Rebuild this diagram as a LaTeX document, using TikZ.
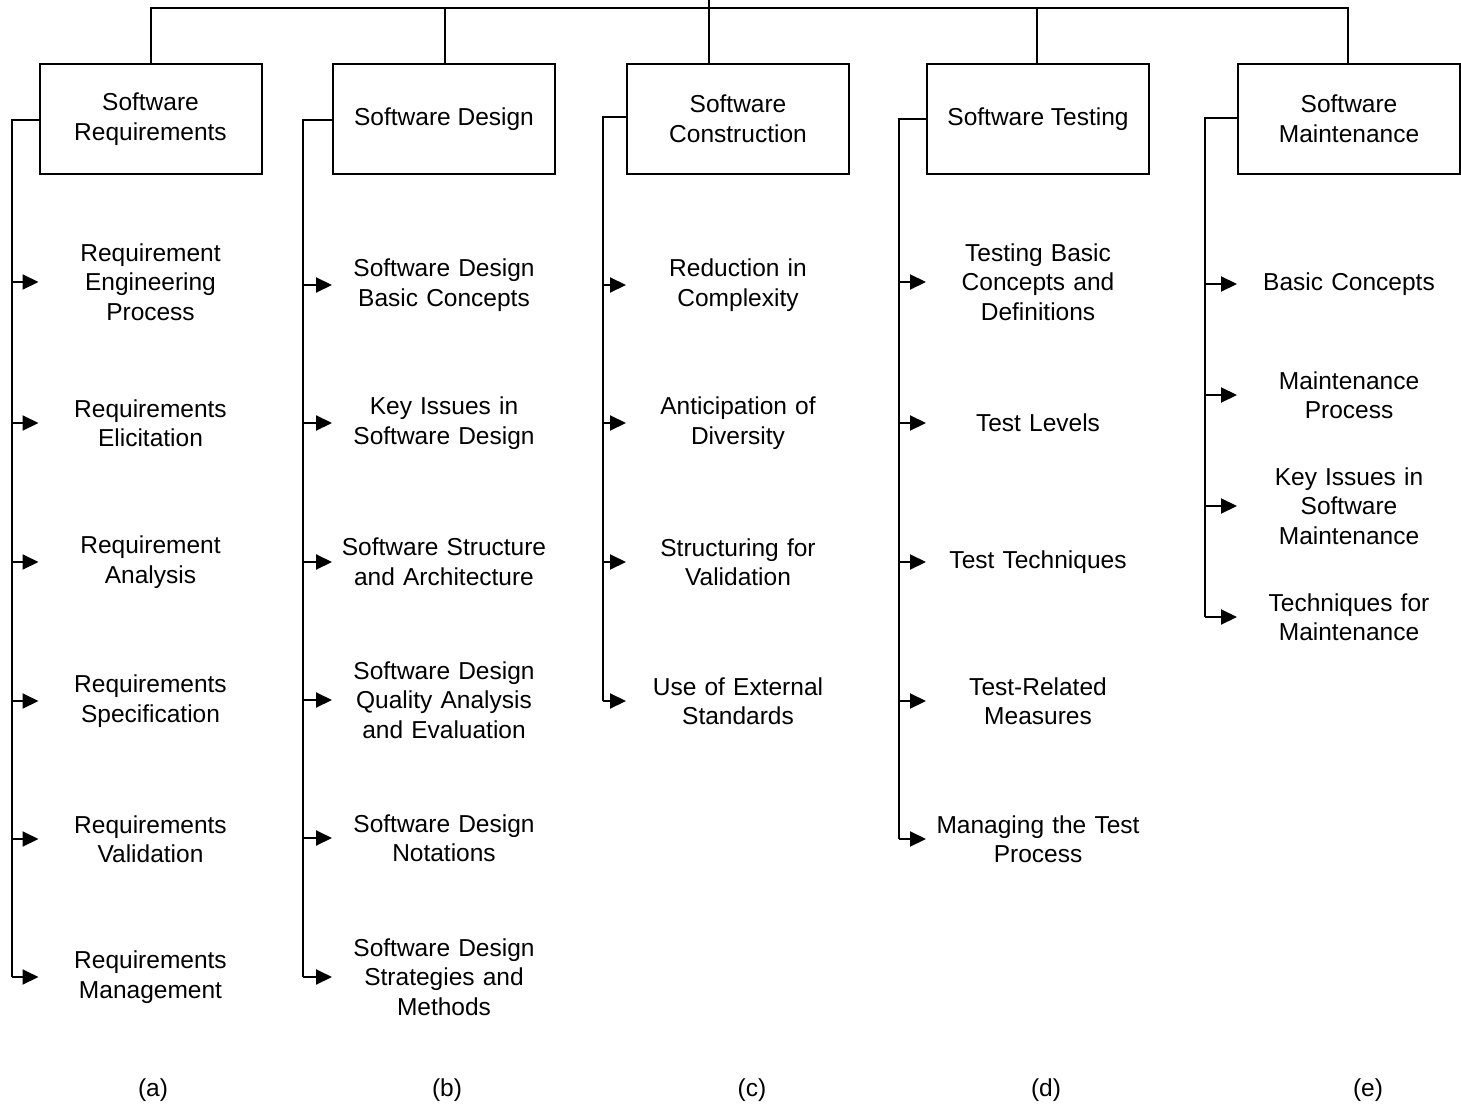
\documentclass[tikz,border=0pt]{standalone}
\usepackage{fontspec}
\setmainfont{Liberation Sans}
\usetikzlibrary{arrows.meta}
\begin{document}
\begin{tikzpicture}[x=1pt,y=-1pt,
  line width=2pt,
  every node/.style={font=\fontsize{24.5}{29.5}\selectfont},
  area/.style={draw, minimum width=222pt, minimum height=110pt, inner sep=0pt, align=center},
  topic/.style={inner sep=0pt, text width=222pt, align=center},
  arr/.style={-{Triangle[length=16pt,width=15pt]}},
  tag/.style={inner sep=0pt}]
\useasboundingbox (0,0) rectangle (1461,1107);

% knowledge areas
\node[area] (A) at (150.5,119) {Software\\Requirements};
\node[area] (B) at (444,119) {Software Design};
\node[area] (C) at (738,119) {Software\\Construction};
\node[area] (D) at (1038,119) {Software Testing};
\node[area] (E) at (1349,119) {Software\\Maintenance};

% top rail
\coordinate (root) at (709,0);
\coordinate (rl) at (151,8);
\coordinate (rr) at (1348,8);
\draw (rl |- A.north) -- (rl) -- (rr) -- (rr |- E.north);
\draw (445,8) -- (445,64);
\draw (1037,8) -- (1037,64);
\draw (root) -- (709,64);

% topics (a)
\node[topic] (a1) at (150.5,282) {Requirement\\Engineering\\Process};
\node[topic] (a2) at (150.5,423) {Requirements\\Elicitation};
\node[topic] (a3) at (150.5,562) {Requirement\\Analysis};
\node[topic] (a4) at (150.5,701) {Requirements\\Specification};
\node[topic] (a5) at (150.5,839) {Requirements\\Validation};
\node[topic] (a6) at (150.5,977) {Requirements\\Management};

% topics (b)
\node[topic] (b1) at (444,285) {Software Design\\Basic Concepts};
\node[topic] (b2) at (444,423) {Key Issues in\\Software Design};
\node[topic] (b3) at (444,562) {Software Structure\\and Architecture};
\node[topic] (b4) at (444,700) {Software Design\\Quality Analysis\\and Evaluation};
\node[topic] (b5) at (444,838) {Software Design\\Notations};
\node[topic] (b6) at (444,977) {Software Design\\Strategies and\\Methods};

% topics (c)
\node[topic] (c1) at (738,285) {Reduction in\\Complexity};
\node[topic] (c2) at (738,423) {Anticipation of\\Diversity};
\node[topic] (c3) at (738,562) {Structuring for\\Validation};
\node[topic] (c4) at (738,701) {Use of External\\Standards};

% topics (d)
\node[topic] (d1) at (1038,282) {Testing Basic\\Concepts and\\Definitions};
\node[topic] (d2) at (1038,423) {Test Levels};
\node[topic] (d3) at (1038,562) {Test Techniques};
\node[topic] (d4) at (1038,701) {Test-Related\\Measures};
\node[topic] (d5) at (1038,839) {Managing the Test\\Process};

% topics (e)
\node[topic] (e1) at (1349,284) {Basic Concepts};
\node[topic] (e2) at (1349,395) {Maintenance\\Process};
\node[topic] (e3) at (1349,506) {Key Issues in\\Software\\Maintenance};
\node[topic] (e4) at (1349,617) {Techniques for\\Maintenance};

% trunks and branches
\coordinate (ta) at (12,120);
\coordinate (tb) at (303,120);
\coordinate (tc) at (603,117);
\coordinate (td) at (899,119);
\coordinate (te) at (1205,118);

\draw (A.west |- ta) -- (ta) -- (ta |- a6.west);
\foreach \n in {a1,a2,a3,a4,a5,a6} \draw[arr] (ta |- \n.west) -- (\n.west);
\draw (B.west |- tb) -- (tb) -- (tb |- b6.west);
\foreach \n in {b1,b2,b3,b4,b5,b6} \draw[arr] (tb |- \n.west) -- (\n.west);
\draw (C.west |- tc) -- (tc) -- (tc |- c4.west);
\foreach \n in {c1,c2,c3,c4} \draw[arr] (tc |- \n.west) -- (\n.west);
\draw (D.west |- td) -- (td) -- (td |- d5.west);
\foreach \n in {d1,d2,d3,d4,d5} \draw[arr] (td |- \n.west) -- (\n.west);
\draw (E.west |- te) -- (te) -- (te |- e4.west);
\foreach \n in {e1,e2,e3,e4} \draw[arr] (te |- \n.west) -- (\n.west);

% column labels
\node[tag] (la) at (153,1090) {(a)};
\node[tag] (lb) at (447,1090) {(b)};
\node[tag] (lc) at (752,1090) {(c)};
\node[tag] (ld) at (1046,1090) {(d)};
\node[tag] (le) at (1368,1090) {(e)};
\end{tikzpicture}
\end{document}
